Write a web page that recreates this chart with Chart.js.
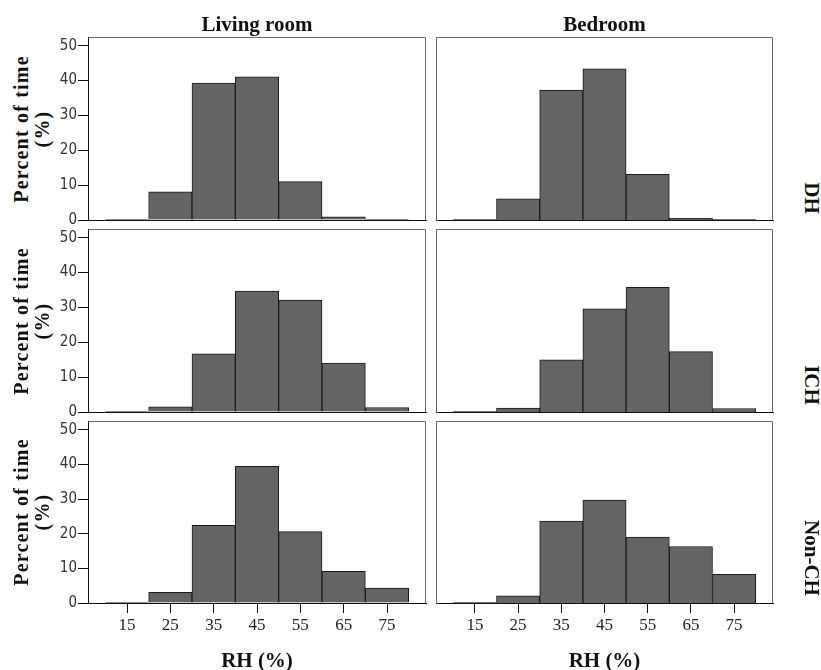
<!DOCTYPE html>
<html>
<head>
<meta charset="utf-8">
<script src="https://cdn.jsdelivr.net/npm/chart.js@4"></script>
<style>
  body { margin: 0; background: #fff; }
  #wrap { position: relative; width: 821px; height: 670px; overflow: hidden; }
  canvas { position: absolute; }
  .lbl {
    position: absolute;
    font-family: "Liberation Serif", "Times New Roman", serif;
    font-weight: bold;
    font-size: 21px;
    line-height: 20px;
    color: #111;
    text-align: center;
    white-space: nowrap;
  }
</style>
</head>
<body>
<div id="wrap"></div>
<script>
// bin centres of RH (%) – bins are 10-20, 20-30, ... 70-80
const bins = [15, 25, 35, 45, 55, 65, 75];
const xTickValues = [15, 25, 35, 45, 55, 65, 75];
const yTickValues = [0, 10, 20, 30, 40, 50];

const colTitles = ["Living room", "Bedroom"];
const rowTitles = ["DH", "ICH", "Non-CH"];

// percent of time per bin
const livingDH = [0.2, 8.1, 39.3, 41.1, 11.0, 0.9, 0.1];
const bedroomDH = [0.1, 6.1, 37.3, 43.4, 13.1, 0.5, 0.1];
const livingICH = [0.1, 1.5, 16.7, 34.7, 32.1, 14.0, 1.3];
const bedroomICH = [0.1, 1.1, 15.0, 29.6, 35.8, 17.3, 1.0];
const livingNonCH = [0.2, 3.1, 22.4, 39.4, 20.6, 9.1, 4.3];
const bedroomNonCH = [0.1, 2.1, 23.6, 29.7, 19.0, 16.3, 8.3];

const panels = [
  { values: livingDH, col: 0, row: 0 },
  { values: bedroomDH, col: 1, row: 0 },
  { values: livingICH, col: 0, row: 1 },
  { values: bedroomICH, col: 1, row: 1 },
  { values: livingNonCH, col: 0, row: 2 },
  { values: bedroomNonCH, col: 1, row: 2 },
];

// panel boxes on the page
const colLeft = [88, 436];
const colWidth = [338, 337];
const rowTop = [37, 229, 421];
const rowHeight = [183, 183, 182];

const wrap = document.getElementById("wrap");

// grey frame on top and right of each panel
const framePlugin = {
  id: "frame",
  afterDraw(chart) {
    const a = chart.chartArea;
    const ctx = chart.ctx;
    ctx.save();
    ctx.strokeStyle = "#6a6a6a";
    ctx.lineWidth = 1;
    ctx.beginPath();
    ctx.moveTo(Math.round(a.left) + 0.5, Math.round(a.top) + 0.5);
    ctx.lineTo(Math.round(a.right) - 0.5, Math.round(a.top) + 0.5);
    ctx.lineTo(Math.round(a.right) - 0.5, Math.round(a.bottom));
    ctx.stroke();
    ctx.restore();
  },
};

panels.forEach((p) => {
  const padX = 2;
  const padY = 12;
  const yW = p.col === 0 ? 30 : 0;
  const xH = p.row === 2 ? 40 : 0;
  const w = colWidth[p.col];
  const h = rowHeight[p.row];
  const canvas = document.createElement("canvas");
  canvas.width = padX + yW + w + padX;
  canvas.height = padY + h + xH + padY;
  canvas.style.left = colLeft[p.col] - padX - yW + "px";
  canvas.style.top = rowTop[p.row] - padY + "px";
  wrap.appendChild(canvas);

  const showX = p.row === 2;
  const showY = p.col === 0;

  new Chart(canvas, {
    type: "bar",
    data: {
      datasets: [
        {
          data: bins.map((b, i) => ({ x: b, y: p.values[i] })),
          backgroundColor: "#646464",
          borderColor: "#1a1a1a",
          borderWidth: 1,
          barPercentage: 1,
          categoryPercentage: 1,
        },
      ],
    },
    options: {
      responsive: false,
      animation: false,
      layout: { padding: { top: padY, bottom: padY, left: padX, right: padX } },
      plugins: { legend: { display: false }, tooltip: { enabled: false } },
      scales: {
        x: {
          type: "linear",
          min: 6,
          max: 84,
          offset: false,
          afterBuildTicks: (s) => {
            s.ticks = xTickValues.map((v) => ({ value: v }));
          },
          afterFit: (s) => {
            s.height = xH;
          },
          grid: {
            display: showX,
            offset: false,
            drawOnChartArea: false,
            drawTicks: showX,
            tickLength: 10,
            color: "#111",
          },
          border: { display: true, color: "#111", width: 1 },
          ticks: {
            display: showX,
            padding: 2,
            maxRotation: 0,
            color: "#222",
            font: { family: "Liberation Serif", size: 17 },
          },
        },
        y: {
          min: 0,
          max: 52.5,
          afterBuildTicks: (s) => {
            s.ticks = yTickValues.map((v) => ({ value: v }));
          },
          afterFit: (s) => {
            s.width = yW;
          },
          grid: {
            display: showY,
            drawOnChartArea: false,
            drawTicks: showY,
            tickLength: 10,
            color: "#111",
          },
          border: { display: true, color: showY ? "#111" : "#6a6a6a", width: 1 },
          ticks: {
            display: showY,
            padding: 1,
            color: "#333",
            font: { family: "'DejaVu Sans Condensed', 'DejaVu Sans'", size: 15 },
          },
        },
      },
    },
    plugins: [framePlugin],
  });
});

// text labels
function addLabel(text, cx, cy, width, rotate, extraStyle) {
  const d = document.createElement("div");
  d.className = "lbl";
  d.innerHTML = text;
  d.style.width = width + "px";
  d.style.left = cx - width / 2 + "px";
  d.style.top = cy - 10 + "px";
  if (rotate) d.style.transform = "rotate(" + rotate + "deg)";
  if (extraStyle) Object.assign(d.style, extraStyle);
  wrap.appendChild(d);
  return d;
}

// column titles
addLabel(colTitles[0], colLeft[0] + colWidth[0] / 2, 24, 200);
addLabel(colTitles[1], colLeft[1] + colWidth[1] / 2, 24, 200);

// x axis titles
addLabel("RH (%)", colLeft[0] + colWidth[0] / 2, 660, 200);
addLabel("RH (%)", colLeft[1] + colWidth[1] / 2, 660, 200);

// y axis titles (two lines, rotated)
rowTop.forEach((t, r) => {
  const cy = t + rowHeight[r] / 2;
  addLabel("Percent of time<br>(%)", 32, cy, 200, -90, {
    fontSize: "20px",
    lineHeight: "21px",
    height: "42px",
    top: cy - 21 + "px",
    letterSpacing: "1.2px",
  });
});

// row titles on the right
const rowLabelCentres = [197.5, 385, 557.5];
rowTitles.forEach((t, r) => {
  addLabel(t, 811.5, rowLabelCentres[r], 120, 90);
});
</script>
</body>
</html>
